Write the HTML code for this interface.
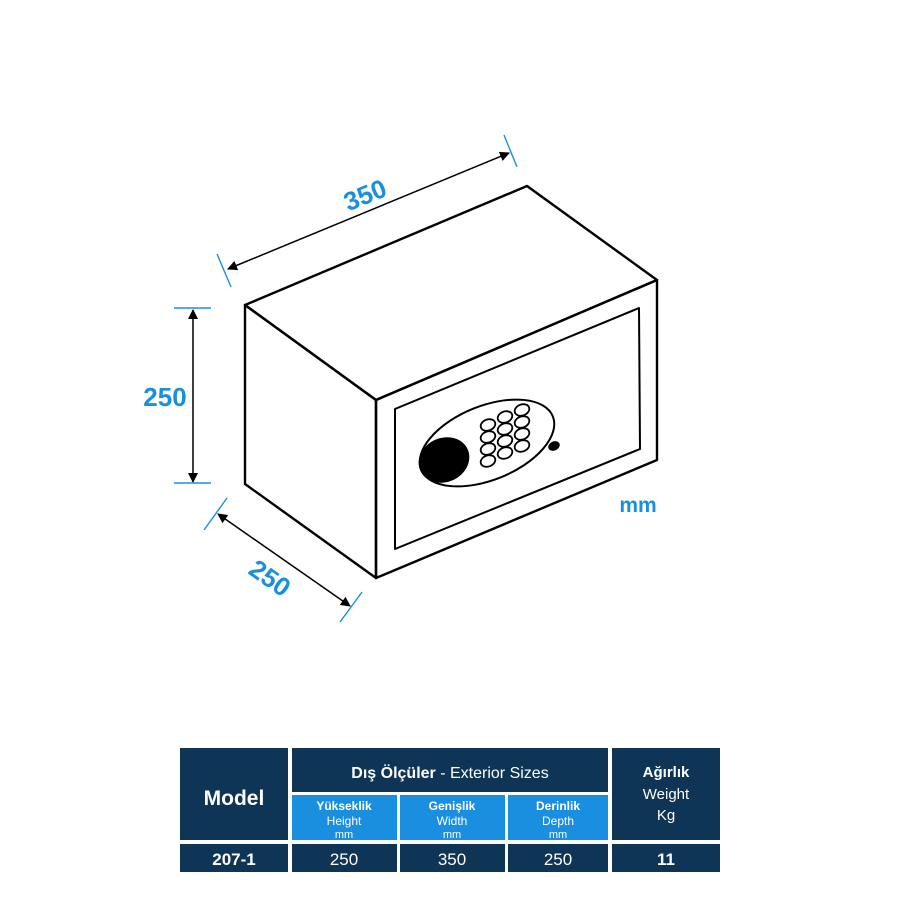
<!DOCTYPE html>
<html><head><style>
html,body{margin:0;padding:0;background:#fff;width:900px;height:900px;overflow:hidden}
svg{display:block}
</style></head><body>
<svg width="900" height="900" viewBox="0 0 900 900" xmlns="http://www.w3.org/2000/svg">
<defs>
<marker id="ah" viewBox="0 0 10 10" refX="9" refY="5" markerWidth="10" markerHeight="10" markerUnits="userSpaceOnUse" orient="auto-start-reverse">
<path d="M0,0 L10,5 L0,10 z" fill="#000"/>
</marker>
</defs>
<g fill="none" stroke="#000" stroke-width="2.4" stroke-linejoin="round">
<polygon points="245,305 527,186 657,280 376,400"/>
<polygon points="245,305 376,400 376,578 245,484"/>
<polygon points="376,400 657,280 657,460 376,578"/>
<polygon points="395,409 639,308 640,449 395,549" stroke-width="2"/>
</g>
<g transform="rotate(-22 487 443)">
<ellipse cx="487" cy="443" rx="71" ry="37" fill="#fff" stroke="#000" stroke-width="2"/>
</g>
<ellipse cx="444" cy="460" rx="26" ry="22" transform="rotate(-25 444 460)" fill="#000"/>
<g fill="#fff" stroke="#000" stroke-width="1.8">
<ellipse cx="488" cy="425" rx="7.5" ry="5.5" transform="rotate(-20 488 425)"/>
<ellipse cx="505" cy="417" rx="7.5" ry="5.5" transform="rotate(-20 505 417)"/>
<ellipse cx="522" cy="410" rx="7.5" ry="5.5" transform="rotate(-20 522 410)"/>
<ellipse cx="488" cy="437" rx="7.5" ry="5.5" transform="rotate(-20 488 437)"/>
<ellipse cx="505" cy="429" rx="7.5" ry="5.5" transform="rotate(-20 505 429)"/>
<ellipse cx="522" cy="422" rx="7.5" ry="5.5" transform="rotate(-20 522 422)"/>
<ellipse cx="488" cy="449" rx="7.5" ry="5.5" transform="rotate(-20 488 449)"/>
<ellipse cx="505" cy="441" rx="7.5" ry="5.5" transform="rotate(-20 505 441)"/>
<ellipse cx="522" cy="434" rx="7.5" ry="5.5" transform="rotate(-20 522 434)"/>
<ellipse cx="488" cy="461" rx="7.5" ry="5.5" transform="rotate(-20 488 461)"/>
<ellipse cx="505" cy="453" rx="7.5" ry="5.5" transform="rotate(-20 505 453)"/>
<ellipse cx="522" cy="446" rx="7.5" ry="5.5" transform="rotate(-20 522 446)"/>
</g>
<ellipse cx="554" cy="446" rx="6" ry="4.5" transform="rotate(-25 554 446)" fill="#000"/>
<g stroke="#000" stroke-width="1.5" fill="none">
<line x1="228" y1="269" x2="509" y2="153" marker-start="url(#ah)" marker-end="url(#ah)"/>
<line x1="193" y1="310" x2="193" y2="482" marker-start="url(#ah)" marker-end="url(#ah)"/>
<line x1="218" y1="514" x2="350" y2="606" marker-start="url(#ah)" marker-end="url(#ah)"/>
</g>
<g stroke="#1a8fe0" stroke-width="1.4">
<line x1="217" y1="254" x2="231" y2="287"/>
<line x1="504" y1="135" x2="517" y2="167"/>
<line x1="174" y1="308" x2="211" y2="308"/>
<line x1="174" y1="483" x2="211" y2="483"/>
<line x1="204" y1="530" x2="227" y2="498"/>
<line x1="340" y1="622" x2="362" y2="592"/>
</g>
<g font-family="Liberation Sans, sans-serif" font-weight="bold" font-size="26" fill="#1a8fe0">
<text x="365" y="204" transform="rotate(-22 365 195)" text-anchor="middle">350</text>
<text x="165" y="406" text-anchor="middle">250</text>
<text x="270" y="587" transform="rotate(35 270 578)" text-anchor="middle">250</text>
<text x="638" y="512" text-anchor="middle" font-size="21">mm</text>
</g>
<g fill="#0f3556">
<rect x="180" y="748" width="108" height="92"/>
<rect x="292" y="748" width="316" height="44"/>
<rect x="612" y="748" width="108" height="92"/>
<rect x="180" y="844" width="108" height="28"/>
<rect x="292" y="844" width="105" height="28"/>
<rect x="400" y="844" width="105" height="28"/>
<rect x="508" y="844" width="100" height="28"/>
<rect x="612" y="844" width="108" height="28"/>
</g>
<g fill="#1a8fe0">
<rect x="292" y="795" width="105" height="45"/>
<rect x="400" y="795" width="105" height="45"/>
<rect x="508" y="795" width="100" height="45"/>
</g>
<g font-family="Liberation Sans, sans-serif" fill="#fff" text-anchor="middle">
<text x="234" y="805" font-size="21" font-weight="bold">Model</text>
<text x="450" y="778" font-size="16"><tspan font-weight="bold">Dış Ölçüler</tspan> - Exterior Sizes</text>
<text x="666" y="777" font-size="15" font-weight="bold">Ağırlık</text>
<text x="666" y="799" font-size="15">Weight</text>
<text x="666" y="820" font-size="15">Kg</text>
<text x="344" y="810" font-size="12" font-weight="bold">Yükseklik</text>
<text x="344" y="825" font-size="12">Height</text>
<text x="344" y="838" font-size="11">mm</text>
<text x="452" y="810" font-size="12" font-weight="bold">Genişlik</text>
<text x="452" y="825" font-size="12">Width</text>
<text x="452" y="838" font-size="11">mm</text>
<text x="558" y="810" font-size="12" font-weight="bold">Derinlik</text>
<text x="558" y="825" font-size="12">Depth</text>
<text x="558" y="838" font-size="11">mm</text>
<text x="234" y="865" font-size="17" font-weight="bold">207-1</text>
<text x="344" y="865" font-size="17">250</text>
<text x="452" y="865" font-size="17">350</text>
<text x="558" y="865" font-size="17">250</text>
<text x="666" y="865" font-size="17" font-weight="bold">11</text>
</g>
</svg>
</body></html>
